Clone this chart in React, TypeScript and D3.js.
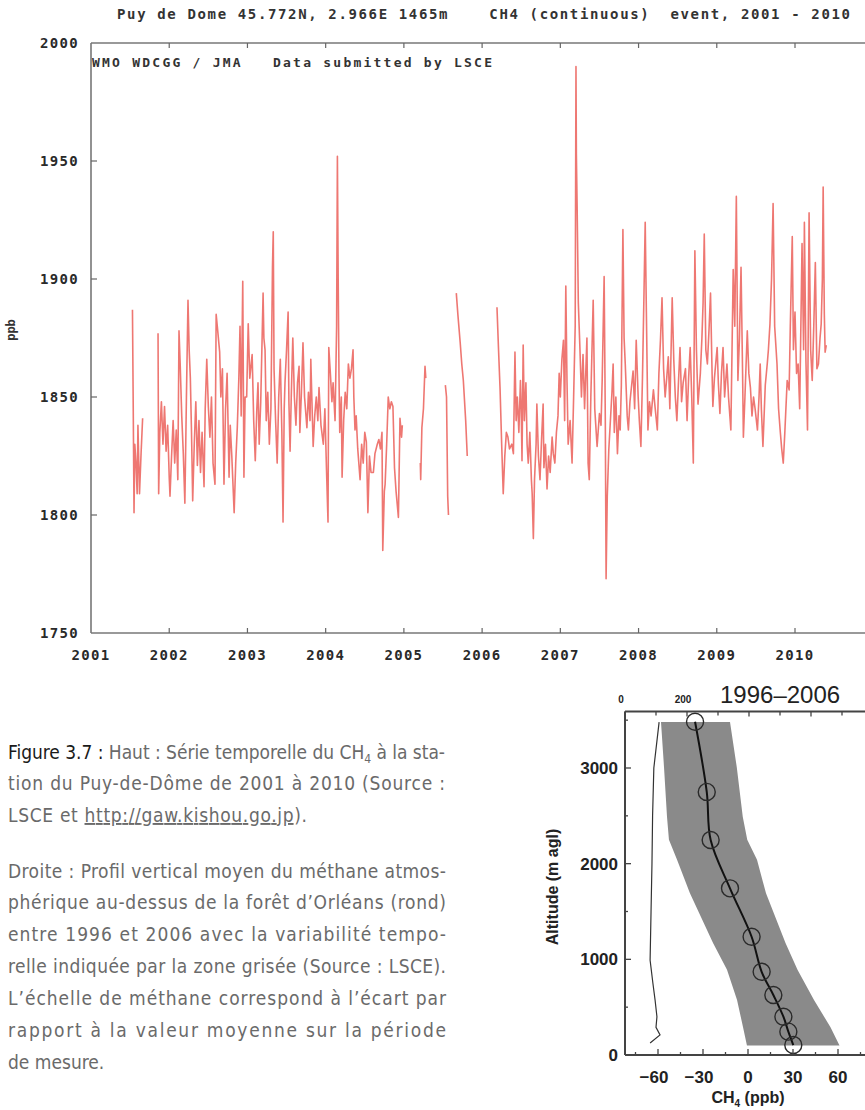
import React from 'react';
import * as d3 from 'd3';

type P = [number, number];

// ---------- Top chart: CH4 time series at Puy de Dome (year, ppb) ----------
const YEAR_TICKS = [2001, 2002, 2003, 2004, 2005, 2006, 2007, 2008, 2009, 2010];
const PPB_TICKS = [1750, 1800, 1850, 1900, 1950, 2000];

const seg2001: P[] = [
  [2001.53, 1887], [2001.54, 1845], [2001.55, 1801], [2001.56, 1830], [2001.575, 1822],
  [2001.59, 1809], [2001.60, 1838], [2001.62, 1809], [2001.64, 1826], [2001.66, 1841],
];

const seg2002_2004: P[] = [
  [2001.857, 1877], [2001.865, 1809], [2001.88, 1835], [2001.90, 1848], [2001.92, 1830],
  [2001.94, 1846], [2001.96, 1827], [2001.98, 1838], [2002.00, 1816], [2002.01, 1808],
  [2002.03, 1825], [2002.05, 1840], [2002.07, 1822], [2002.09, 1836], [2002.11, 1815],
  [2002.125, 1878], [2002.14, 1864], [2002.16, 1842], [2002.18, 1826], [2002.20, 1805],
  [2002.22, 1850], [2002.24, 1891], [2002.255, 1870], [2002.27, 1858], [2002.285, 1835],
  [2002.30, 1806], [2002.32, 1830], [2002.34, 1848], [2002.36, 1821], [2002.38, 1840],
  [2002.40, 1818], [2002.42, 1835], [2002.445, 1812], [2002.46, 1845], [2002.48, 1866],
  [2002.50, 1846], [2002.52, 1833], [2002.54, 1850], [2002.56, 1822], [2002.585, 1813],
  [2002.60, 1885], [2002.62, 1878], [2002.645, 1869], [2002.66, 1850], [2002.68, 1862],
  [2002.70, 1813], [2002.72, 1845], [2002.74, 1860], [2002.765, 1816], [2002.78, 1838],
  [2002.80, 1825], [2002.83, 1801], [2002.85, 1822], [2002.87, 1837], [2002.89, 1858],
  [2002.905, 1880], [2002.92, 1842], [2002.94, 1899], [2002.955, 1816], [2002.97, 1850],
  [2002.99, 1850], [2003.01, 1881], [2003.03, 1858], [2003.06, 1868], [2003.08, 1840],
  [2003.10, 1823], [2003.12, 1845], [2003.135, 1856], [2003.15, 1830], [2003.17, 1848],
  [2003.20, 1894], [2003.21, 1875], [2003.225, 1870], [2003.24, 1840], [2003.26, 1852],
  [2003.28, 1830], [2003.30, 1845], [2003.32, 1905], [2003.33, 1920], [2003.34, 1862],
  [2003.36, 1840], [2003.38, 1822], [2003.40, 1850], [2003.42, 1866], [2003.44, 1835],
  [2003.455, 1797], [2003.47, 1845], [2003.48, 1856], [2003.50, 1870], [2003.52, 1886],
  [2003.53, 1848], [2003.545, 1827], [2003.56, 1850], [2003.58, 1875], [2003.60, 1850],
  [2003.62, 1838], [2003.64, 1856], [2003.66, 1863], [2003.67, 1835], [2003.69, 1852],
  [2003.71, 1873], [2003.73, 1850], [2003.76, 1837], [2003.78, 1852], [2003.80, 1840],
  [2003.81, 1866], [2003.84, 1829], [2003.86, 1842], [2003.88, 1850], [2003.90, 1840],
  [2003.915, 1854], [2003.94, 1838], [2003.97, 1830], [2003.99, 1845], [2004.01, 1820],
  [2004.03, 1797], [2004.04, 1871], [2004.06, 1860], [2004.08, 1848], [2004.095, 1856],
  [2004.12, 1840], [2004.14, 1880], [2004.15, 1952], [2004.16, 1900], [2004.17, 1860],
  [2004.18, 1835], [2004.20, 1850], [2004.21, 1816], [2004.23, 1840], [2004.25, 1852],
  [2004.27, 1845], [2004.29, 1864], [2004.31, 1858], [2004.33, 1862], [2004.35, 1870],
  [2004.36, 1850], [2004.375, 1836], [2004.39, 1842], [2004.41, 1828], [2004.44, 1815],
  [2004.46, 1830], [2004.48, 1822], [2004.50, 1835], [2004.52, 1831], [2004.54, 1801],
  [2004.56, 1825], [2004.58, 1818], [2004.61, 1818], [2004.63, 1826], [2004.66, 1830],
  [2004.68, 1832], [2004.70, 1828], [2004.72, 1835], [2004.73, 1785], [2004.75, 1810],
  [2004.76, 1813], [2004.78, 1830], [2004.80, 1850], [2004.82, 1845], [2004.84, 1848],
  [2004.86, 1846], [2004.88, 1820], [2004.90, 1810], [2004.93, 1799], [2004.95, 1841],
  [2004.97, 1833], [2004.98, 1838],
];

const seg2005a: P[] = [
  [2005.21, 1822], [2005.215, 1815], [2005.23, 1837], [2005.25, 1845], [2005.27, 1863], [2005.28, 1858],
];

const seg2005b: P[] = [
  [2005.53, 1855], [2005.545, 1850], [2005.56, 1808], [2005.57, 1800],
];

const seg2005c: P[] = [
  [2005.67, 1894], [2005.69, 1885], [2005.72, 1873], [2005.74, 1864], [2005.76, 1857],
  [2005.79, 1840], [2005.81, 1825],
];

const seg2006_2010: P[] = [
  [2006.19, 1888], [2006.21, 1870], [2006.23, 1853], [2006.25, 1830], [2006.27, 1809],
  [2006.29, 1825], [2006.31, 1835], [2006.33, 1833], [2006.35, 1828], [2006.38, 1830],
  [2006.40, 1826], [2006.42, 1869], [2006.435, 1840], [2006.45, 1850], [2006.47, 1835],
  [2006.49, 1857], [2006.50, 1845], [2006.51, 1823], [2006.525, 1872], [2006.54, 1840],
  [2006.56, 1856], [2006.575, 1830], [2006.59, 1822], [2006.61, 1835], [2006.63, 1815],
  [2006.64, 1809], [2006.655, 1790], [2006.67, 1815], [2006.69, 1830], [2006.70, 1847],
  [2006.72, 1825], [2006.74, 1815], [2006.76, 1832], [2006.78, 1847], [2006.79, 1820],
  [2006.81, 1830], [2006.83, 1811], [2006.85, 1825], [2006.87, 1818], [2006.895, 1833],
  [2006.91, 1826], [2006.93, 1822], [2006.95, 1835], [2006.97, 1842], [2006.985, 1860],
  [2007.00, 1850], [2007.02, 1866], [2007.04, 1874], [2007.055, 1840], [2007.07, 1897],
  [2007.085, 1857], [2007.10, 1830], [2007.125, 1840], [2007.15, 1822], [2007.17, 1850],
  [2007.19, 1880], [2007.20, 1990], [2007.205, 1953], [2007.215, 1930], [2007.23, 1890],
  [2007.25, 1871], [2007.27, 1850], [2007.29, 1868], [2007.31, 1845], [2007.34, 1875],
  [2007.355, 1822], [2007.37, 1815], [2007.39, 1850], [2007.42, 1891], [2007.44, 1845],
  [2007.47, 1829], [2007.50, 1843], [2007.52, 1838], [2007.535, 1857], [2007.56, 1901],
  [2007.575, 1840], [2007.585, 1773], [2007.60, 1808], [2007.62, 1828], [2007.64, 1840],
  [2007.66, 1852], [2007.675, 1864], [2007.69, 1835], [2007.71, 1850], [2007.73, 1826],
  [2007.75, 1842], [2007.765, 1836], [2007.78, 1855], [2007.80, 1921], [2007.815, 1875],
  [2007.83, 1864], [2007.855, 1842], [2007.87, 1836], [2007.89, 1848], [2007.93, 1861],
  [2007.95, 1845], [2007.97, 1874], [2007.995, 1850], [2008.01, 1840], [2008.03, 1829],
  [2008.05, 1858], [2008.07, 1895], [2008.085, 1924], [2008.10, 1886], [2008.12, 1836],
  [2008.14, 1848], [2008.16, 1842], [2008.19, 1853], [2008.21, 1846], [2008.24, 1836],
  [2008.26, 1860], [2008.28, 1874], [2008.30, 1892], [2008.32, 1862], [2008.34, 1850],
  [2008.36, 1858], [2008.38, 1867], [2008.40, 1845], [2008.43, 1892], [2008.45, 1866],
  [2008.47, 1850], [2008.49, 1840], [2008.51, 1856], [2008.53, 1871], [2008.55, 1848],
  [2008.57, 1856], [2008.60, 1862], [2008.62, 1840], [2008.64, 1858], [2008.66, 1871],
  [2008.68, 1850], [2008.70, 1822], [2008.72, 1912], [2008.74, 1870], [2008.76, 1847],
  [2008.79, 1860], [2008.81, 1875], [2008.825, 1890], [2008.84, 1919], [2008.86, 1870],
  [2008.88, 1864], [2008.90, 1878], [2008.92, 1894], [2008.94, 1860], [2008.95, 1846],
  [2008.97, 1858], [2009.005, 1871], [2009.02, 1856], [2009.04, 1843], [2009.06, 1860],
  [2009.08, 1871], [2009.10, 1850], [2009.13, 1864], [2009.15, 1850], [2009.18, 1836],
  [2009.195, 1870], [2009.21, 1904], [2009.23, 1880], [2009.25, 1935], [2009.27, 1857],
  [2009.29, 1875], [2009.31, 1905], [2009.33, 1860], [2009.34, 1833], [2009.36, 1850],
  [2009.39, 1878], [2009.41, 1860], [2009.43, 1854], [2009.45, 1842], [2009.47, 1850],
  [2009.49, 1845], [2009.52, 1836], [2009.54, 1850], [2009.555, 1864], [2009.57, 1845],
  [2009.59, 1829], [2009.62, 1855], [2009.645, 1864], [2009.66, 1870], [2009.68, 1881],
  [2009.70, 1900], [2009.72, 1932], [2009.74, 1880], [2009.77, 1864], [2009.79, 1845],
  [2009.81, 1836], [2009.83, 1828], [2009.85, 1822], [2009.87, 1835], [2009.90, 1857],
  [2009.925, 1853], [2009.94, 1880], [2009.965, 1918], [2009.98, 1870], [2010.00, 1886],
  [2010.02, 1860], [2010.04, 1864], [2010.06, 1845], [2010.09, 1915], [2010.11, 1870],
  [2010.12, 1924], [2010.14, 1865], [2010.16, 1836], [2010.18, 1928], [2010.20, 1870],
  [2010.22, 1857], [2010.24, 1880], [2010.26, 1907], [2010.28, 1862], [2010.30, 1864],
  [2010.32, 1875], [2010.335, 1881], [2010.35, 1900], [2010.36, 1939], [2010.375, 1885],
  [2010.385, 1869], [2010.40, 1872],
];

const SEGMENTS: P[][] = [seg2001, seg2002_2004, seg2005a, seg2005b, seg2005c, seg2006_2010];

// ---------- Bottom-right chart: mean vertical CH4 profile (Orléans, 1996-2006) ----------
const ALT_TICKS = [0, 1000, 2000, 3000];
const CH4_TICKS = [-60, -30, 0, 30, 60];
const TOP_TICK_LABELS = [0, 200];

const profileAlt = [104, 244, 400, 627, 870, 1236, 1742, 2247, 2750, 3483];
const profileCH4 = [30.2, 26.9, 23.6, 16.9, 9.1, 2.4, -12, -24.9, -27.5, -35.3];

const bandAlt = [100, 290, 575, 890, 1170, 1690, 2040, 2250, 2490, 3010, 3480];
const bandLow = [-0.7, -3.3, -7.3, -14, -23.3, -38.7, -47.3, -52.7, -54, -56, -58];
const bandHigh = [61, 55, 44, 33, 25, 12, 6, -0.5, -3.5, -7.5, -12];

const thinAlt = [125, 210, 290, 400, 575, 750, 990, 1500, 2000, 2500, 3000, 3480];
const thinVal = [81, 113, 100, 103, 97, 90, 81, 84, 87, 89, 93, 110];

// ---------- Caption ----------
const CAPTION_LINES = [
  'tion du Puy-de-Dôme de 2001 à 2010 (Source :',
  'Droite : Profil vertical moyen du méthane atmos-',
  'phérique au-dessus de la forêt d’Orléans (rond)',
  'entre 1996 et 2006 avec la variabilité tempo-',
  'relle indiquée par la zone grisée (Source : LSCE).',
  'L’échelle de méthane correspond à l’écart par',
  'rapport à la valeur moyenne sur la période',
];

const MONO = "'DejaVu Sans Mono', 'Liberation Mono', monospace";
const SANS = "'Liberation Sans', Arial, Helvetica, sans-serif";
const NARROW = "'Liberation Sans Narrow', 'DejaVu Sans Condensed', 'Liberation Sans', sans-serif";

export default function App() {
  // top chart scales
  const x = d3.scaleLinear().domain([2001, 2010]).range([91, 795]);
  const y = d3.scaleLinear().domain([1750, 2000]).range([633, 43]);
  const line = d3.line<P>().x((d) => x(d[0])).y((d) => y(d[1]));

  // profile scales
  const xP = d3.scaleLinear().domain([-60, 60]).range([658, 838]);
  const yP = d3.scaleLinear().domain([0, 3000]).range([1055, 768]);
  const xTop = d3.scaleLinear().domain([0, 200]).range([625, 687]);
  const pLeft = 625;
  const pTop = yP(3590);
  const pBottom = yP(0);
  const pRight = 866;

  const bandData = bandAlt.map((a, i) => ({ a, lo: bandLow[i], hi: bandHigh[i] }));
  const area = d3
    .area<{ a: number; lo: number; hi: number }>()
    .y((d) => yP(d.a))
    .x0((d) => xP(d.lo))
    .x1((d) => xP(d.hi));

  const profilePts = profileAlt.map((a, i) => [profileCH4[i], a] as P);
  const profileLine = d3
    .line<P>()
    .x((d) => xP(d[0]))
    .y((d) => yP(d[1]))
    .curve(d3.curveCatmullRom);

  const thinPts = thinAlt.map((a, i) => [thinVal[i], a] as P);
  const thinLine = d3
    .line<P>()
    .x((d) => xTop(d[0]))
    .y((d) => yP(d[1]));

  const bottomMinor = d3.range(-75, 76, 15);
  const topTicks = d3.range(0, 701, 100);
  const leftTicks = d3.range(0, 3501, 500);

  const capY = [790, 878, 909, 941, 973, 1005, 1037];

  return (
    <svg
      width={865}
      height={1110}
      style={{ position: 'absolute', left: 0, top: 0, background: '#fff' }}
    >
      {/* ================= TOP CHART ================= */}
      <text
        x={117}
        y={19}
        fontFamily={MONO}
        fontSize={14}
        fontWeight="bold"
        fill="#333"
        textLength={733}
        lengthAdjust="spacing"
        style={{ whiteSpace: 'pre' }}
      >
        {'Puy de Dome 45.772N, 2.966E 1465m    CH4 (continuous)  event, 2001 - 2010'}
      </text>

      {/* frame */}
      <g stroke="#777" strokeWidth={1.6} fill="none">
        <line x1={x(2001)} x2={866} y1={y(2000)} y2={y(2000)} />
        <line x1={x(2001)} x2={866} y1={y(1750)} y2={y(1750)} />
        <line x1={x(2001)} x2={x(2001)} y1={y(2000)} y2={y(1750)} />
      </g>
      {/* x ticks (bottom & top) */}
      <g stroke="#666" strokeWidth={1.2}>
        {YEAR_TICKS.slice(1).map((t) => (
          <g key={t}>
            <line x1={x(t)} x2={x(t)} y1={y(1750)} y2={y(1750) - 5} />
            <line x1={x(t)} x2={x(t)} y1={y(2000)} y2={y(2000) + 5} />
          </g>
        ))}
        {PPB_TICKS.slice(1, -1).map((t) => (
          <line key={t} x1={x(2001)} x2={x(2001) + 6} y1={y(t)} y2={y(t)} />
        ))}
      </g>
      {/* year labels */}
      <g fontFamily={MONO} fontSize={14} fontWeight="bold" fill="#2a2a2a" textAnchor="middle">
        {YEAR_TICKS.map((t) => (
          <text key={t} x={x(t)} y={660} letterSpacing={1.3}>
            {t}
          </text>
        ))}
      </g>
      {/* ppb labels */}
      <g fontFamily={MONO} fontSize={14} fontWeight="bold" fill="#2a2a2a" textAnchor="end">
        {PPB_TICKS.map((t) => (
          <text key={t} x={79} y={y(t) + 5} letterSpacing={1.3}>
            {t}
          </text>
        ))}
      </g>
      <text
        transform="translate(15,330) rotate(-90)"
        fontFamily={MONO}
        fontSize={12}
        fontWeight="bold"
        fill="#333"
        textAnchor="middle"
      >
        ppb
      </text>
      <text
        x={92}
        y={67}
        fontFamily={MONO}
        fontSize={13}
        fontWeight="bold"
        fill="#333"
        textLength={400}
        lengthAdjust="spacing"
        style={{ whiteSpace: 'pre' }}
      >
        {'WMO WDCGG / JMA   Data submitted by LSCE'}
      </text>

      {/* series */}
      <g fill="none" stroke="#e8423c" strokeWidth={1.6} strokeOpacity={0.72} strokeLinejoin="round">
        {SEGMENTS.map((s, i) => (
          <path key={i} d={line(s) || ''} />
        ))}
      </g>

      {/* ================= PROFILE CHART ================= */}
      <path d={area(bandData) || ''} fill="#8a8a8a" />
      <path d={thinLine(thinPts) || ''} fill="none" stroke="#333" strokeWidth={1.2} />
      <path d={profileLine(profilePts) || ''} fill="none" stroke="#111" strokeWidth={2} />
      <g fill="none" stroke="#2a2a2a" strokeWidth={1.4}>
        {profilePts.map((p, i) => (
          <circle key={i} cx={xP(p[0])} cy={yP(p[1])} r={8.5} />
        ))}
      </g>

      {/* axes */}
      <g stroke="#444" strokeWidth={2} fill="none">
        <line x1={pLeft} x2={pRight} y1={pTop} y2={pTop} />
        <line x1={pLeft} x2={pRight} y1={pBottom} y2={pBottom} />
        <line x1={pLeft} x2={pLeft} y1={pTop} y2={pBottom} />
      </g>
      <g stroke="#444" strokeWidth={1.3}>
        {bottomMinor.map((t) => (
          <line key={t} x1={xP(t)} x2={xP(t)} y1={pBottom} y2={pBottom - (t % 30 === 0 ? 6 : 3)} />
        ))}
        {topTicks.map((t) => (
          <line key={t} x1={xTop(t)} x2={xTop(t)} y1={pTop} y2={pTop + (t % 200 === 0 ? 5 : 4)} />
        ))}
        {leftTicks.map((t) => (
          <line key={t} x1={pLeft} x2={pLeft + (t % 1000 === 0 ? 6 : 3)} y1={yP(t)} y2={yP(t)} />
        ))}
      </g>
      <g fontFamily={SANS} fontWeight="bold" fontSize={17} fill="#222" textAnchor="end">
        {ALT_TICKS.map((t) => (
          <text key={t} x={618} y={yP(t) + 6}>
            {t}
          </text>
        ))}
      </g>
      <g fontFamily={SANS} fontWeight="bold" fontSize={17} fill="#222" textAnchor="middle">
        {CH4_TICKS.map((t) => (
          <text key={t} x={xP(t) - (t < 0 ? 4 : 0)} y={1083}>
            {t < 0 ? `−${Math.abs(t)}` : `${t}`}
          </text>
        ))}
      </g>
      <text x={748} y={1103} fontFamily={SANS} fontWeight="bold" fontSize={16} fill="#222" textAnchor="middle">
        CH
        <tspan fontSize={10} dy={4}>
          4
        </tspan>
        <tspan dy={-4}> (ppb)</tspan>
      </text>
      <text
        transform="translate(558,887) rotate(-90)"
        fontFamily={SANS}
        fontWeight="bold"
        fontSize={16}
        fill="#222"
        textAnchor="middle"
      >
        Altitude (m agl)
      </text>
      <g fontFamily={SANS} fontWeight="bold" fontSize={10} fill="#222" textAnchor="middle">
        {TOP_TICK_LABELS.map((t) => (
          <text key={t} x={xTop(t) - 4} y={703}>
            {t}
          </text>
        ))}
      </g>
      <text x={720} y={703} fontFamily={SANS} fontSize={24} fill="#222">
        1996–2006
      </text>

      {/* ================= CAPTION ================= */}
      <g fontFamily={NARROW} fontSize={19} fill="#6a6a6a">
        <text x={8} y={759} textLength={437} lengthAdjust="spacing">
          <tspan fill="#1a1a1a">Figure 3.7 :</tspan>
          <tspan> Haut : Série temporelle du CH</tspan>
          <tspan fontSize={12} dy={4}>
            4
          </tspan>
          <tspan dy={-4}> à la sta-</tspan>
        </text>
        <text x={8} y={capY[0]} textLength={437} lengthAdjust="spacing">
          {CAPTION_LINES[0]}
        </text>
        <text x={8} y={822} textLength={299} lengthAdjust="spacing">
          LSCE et <tspan style={{ textDecoration: 'underline' }}>http://gaw.kishou.go.jp</tspan>).
        </text>
        {CAPTION_LINES.slice(1).map((s, i) => (
          <text key={s} x={8} y={capY[i + 1]} textLength={438} lengthAdjust="spacing">
            {s}
          </text>
        ))}
        <text x={8} y={1069}>
          de mesure.
        </text>
      </g>
    </svg>
  );
}
